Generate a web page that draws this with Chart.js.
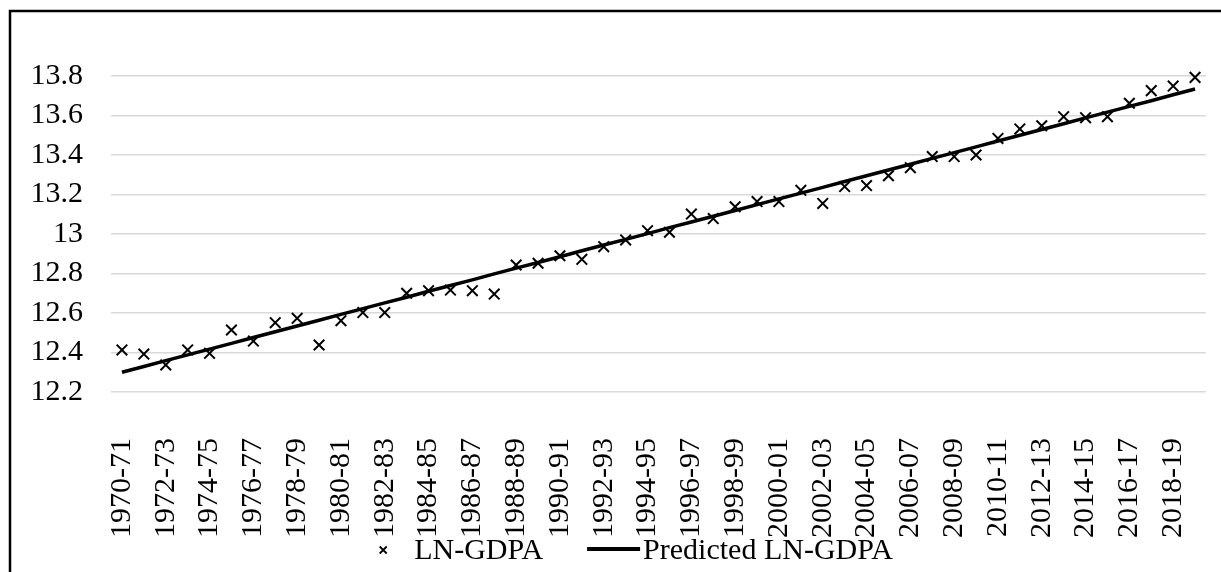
<!DOCTYPE html>
<html>
<head>
<meta charset="utf-8">
<title>LN-GDPA</title>
<script src="https://cdn.jsdelivr.net/npm/chart.js@4"></script>
<style>
  html, body { margin: 0; padding: 0; background: #ffffff; }
  #wrap { width: 1221px; height: 572px; position: relative; }
</style>
</head>
<body>
<div id="wrap"><canvas id="chart" width="1221" height="572"></canvas></div>
<script>
// Fiscal years on the category axis
const years = [
  "1970-71","1971-72","1972-73","1973-74","1974-75","1975-76","1976-77","1977-78","1978-79","1979-80",
  "1980-81","1981-82","1982-83","1983-84","1984-85","1985-86","1986-87","1987-88","1988-89","1989-90",
  "1990-91","1991-92","1992-93","1993-94","1994-95","1995-96","1996-97","1997-98","1998-99","1999-00",
  "2000-01","2001-02","2002-03","2003-04","2004-05","2005-06","2006-07","2007-08","2008-09","2009-10",
  "2010-11","2011-12","2012-13","2013-14","2014-15","2015-16","2016-17","2017-18","2018-19","2019-20"
];

// Observed log of GDP (agriculture)
const lnGdpa = [
  12.413, 12.392, 12.337, 12.413, 12.396, 12.514, 12.458, 12.551, 12.573, 12.438,
  12.561, 12.602, 12.602, 12.700, 12.713, 12.716, 12.713, 12.696, 12.843, 12.852,
  12.890, 12.872, 12.936, 12.970, 13.017, 13.009, 13.101, 13.078, 13.138, 13.164,
  13.164, 13.221, 13.155, 13.240, 13.245, 13.295, 13.336, 13.392, 13.392, 13.400,
  13.484, 13.532, 13.548, 13.594, 13.589, 13.594, 13.662, 13.726, 13.749, 13.793
];

// Fitted values from the trend regression
const predictedLnGdpa = [
  12.300, 12.329, 12.359, 12.388, 12.417, 12.446, 12.476, 12.505, 12.534, 12.563,
  12.593, 12.622, 12.651, 12.680, 12.710, 12.739, 12.768, 12.798, 12.827, 12.856,
  12.885, 12.915, 12.944, 12.973, 13.002, 13.032, 13.061, 13.090, 13.119, 13.149,
  13.178, 13.207, 13.236, 13.266, 13.295, 13.324, 13.353, 13.383, 13.412, 13.441,
  13.471, 13.500, 13.529, 13.558, 13.588, 13.617, 13.646, 13.675, 13.705, 13.734
];

// Value axis range and step
const yMin = 12.2;
const yMax = 13.8;
const yStep = 0.2;

const FONT = '"Liberation Serif", "Times New Roman", serif';

// Outer frame around the whole chart
const framePlugin = {
  id: 'frame',
  afterDraw(chart) {
    const ctx = chart.ctx;
    ctx.save();
    ctx.strokeStyle = '#000000';
    ctx.lineWidth = 2.5;
    ctx.strokeRect(10, 11, 1300, 700);
    ctx.restore();
  }
};

// Legend row drawn under the category labels
const legendPlugin = {
  id: 'bottomLegend',
  afterDraw(chart) {
    const ctx = chart.ctx;
    const ds = chart.data.datasets;
    ctx.save();
    ctx.font = '30px ' + FONT;
    ctx.fillStyle = '#000000';
    ctx.textBaseline = 'middle';
    const markW = 12, markGap = 25, itemGap = 44, lineW = 53, lineGap = 3;
    const w1 = ctx.measureText(ds[0].label).width;
    const w2 = ctx.measureText(ds[1].label).width;
    const total = markW + markGap + w1 + itemGap + lineW + lineGap + w2;
    const cy = 550;
    let x = 635 - total / 2;
    // small cross marker
    ctx.strokeStyle = '#000000';
    ctx.lineWidth = 1.8;
    const mx = x + markW / 2, r = 3.5;
    ctx.beginPath();
    ctx.moveTo(mx - r, cy - r); ctx.lineTo(mx + r, cy + r);
    ctx.moveTo(mx + r, cy - r); ctx.lineTo(mx - r, cy + r);
    ctx.stroke();
    x += markW + markGap;
    ctx.fillText(ds[0].label, x, cy + 1);
    x += w1 + itemGap;
    // line sample
    ctx.lineWidth = 4;
    ctx.beginPath();
    ctx.moveTo(x, cy - 1); ctx.lineTo(x + lineW, cy - 1);
    ctx.stroke();
    x += lineW + lineGap;
    ctx.fillText(ds[1].label, x, cy + 1);
    ctx.restore();
  }
};

new Chart(document.getElementById('chart'), {
  type: 'line',
  data: {
    labels: years,
    datasets: [
      {
        label: 'LN-GDPA',
        data: lnGdpa,
        showLine: false,
        pointStyle: 'crossRot',
        pointRadius: 7.5,
        pointBorderWidth: 2,
        pointBorderColor: '#000000',
        pointBackgroundColor: '#000000',
        borderColor: '#000000',
        clip: false,
        order: 1
      },
      {
        label: 'Predicted LN-GDPA',
        data: predictedLnGdpa,
        borderColor: '#000000',
        borderWidth: 3.5,
        pointRadius: 0,
        tension: 0,
        fill: false,
        clip: false,
        order: 2
      }
    ]
  },
  options: {
    responsive: false,
    animation: false,
    devicePixelRatio: 1,
    layout: { padding: { top: 76, left: 0, right: 15, bottom: 0 } },
    plugins: {
      legend: { display: false },
      tooltip: { enabled: false }
    },
    scales: {
      x: {
        type: 'category',
        offset: true,
        border: { display: false },
        grid: { display: false, drawTicks: false },
        ticks: {
          autoSkip: false,
          maxRotation: 90,
          minRotation: 90,
          padding: 46,
          color: '#000000',
          font: { family: FONT, size: 30 },
          callback(value, index) {
            return index % 2 === 0 ? this.getLabelForValue(value) : '';
          }
        },
        afterFit(scale) {
          scale.height = 180;
          scale.paddingLeft = 0;
          scale.paddingRight = 0;
        }
      },
      y: {
        min: yMin,
        max: yMax,
        border: { display: false },
        grid: { color: '#d9d9d9', lineWidth: 1.5, drawTicks: false },
        ticks: {
          stepSize: yStep,
          padding: 28,
          color: '#000000',
          font: { family: FONT, size: 30 },
          callback(value) { return String(parseFloat(Number(value).toFixed(1))); }
        },
        afterFit(scale) {
          scale.width = 111;
          scale.paddingTop = 0;
          scale.paddingBottom = 0;
        }
      }
    }
  },
  plugins: [framePlugin, legendPlugin]
});
</script>
</body>
</html>
